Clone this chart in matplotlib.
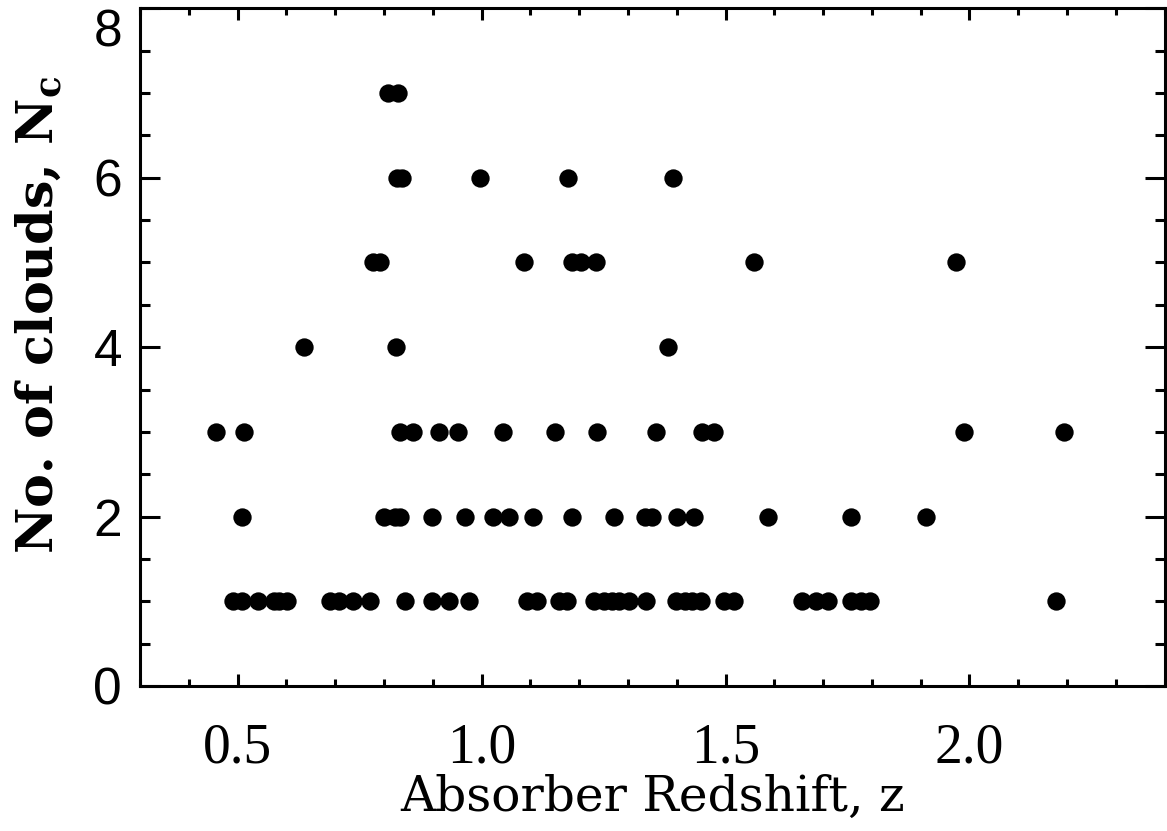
import matplotlib.pyplot as plt
from matplotlib.ticker import MultipleLocator

# absorber redshifts grouped by number of clouds
z_n1 = [0.490, 0.509, 0.541, 0.574, 0.584, 0.601, 0.690, 0.707, 0.737, 0.772,
        0.843, 0.898, 0.933, 0.974, 1.094, 1.113, 1.158, 1.176, 1.231, 1.250,
        1.268, 1.282, 1.303, 1.338, 1.399, 1.416, 1.432, 1.450, 1.497, 1.517,
        1.656, 1.685, 1.711, 1.758, 1.778, 1.797, 2.178]
z_n2 = [0.509, 0.799, 0.823, 0.833, 0.898, 0.966, 1.023, 1.056, 1.105, 1.186,
        1.272, 1.335, 1.350, 1.401, 1.436, 1.587, 1.758, 1.911]
z_n3 = [0.456, 0.513, 0.833, 0.860, 0.913, 0.952, 1.043, 1.150, 1.237, 1.358,
        1.451, 1.476, 1.988, 2.194]
z_n4 = [0.637, 0.825, 1.382]
z_n5 = [0.778, 0.792, 1.086, 1.186, 1.204, 1.235, 1.558, 1.972]
z_n6 = [0.827, 0.837, 0.997, 1.178, 1.392]
z_n7 = [0.809, 0.829]

groups = [(1, z_n1), (2, z_n2), (3, z_n3), (4, z_n4), (5, z_n5), (6, z_n6), (7, z_n7)]

xticks = [0.5, 1.0, 1.5, 2.0]
xtick_labels = ['0.5', '1.0', '1.5', '2.0']
yticks = [0, 2, 4, 6, 8]
ytick_labels = ['0', '2', '4', '6', '8']

fig = plt.figure(figsize=(11.67, 8.31), dpi=100)
ax = fig.add_axes([0.12, 0.1745, 0.878, 0.8155])

for n, zs in groups:
    ax.plot(zs, [n] * len(zs), 'o', color='k', markersize=13.2, markeredgewidth=0)

ax.set(xlim=(0.3, 2.4), ylim=(0, 8))
ax.set_xticks(xticks)
ax.set_xticklabels(xtick_labels, family='Liberation Serif', fontsize=40)
ax.set_yticks(yticks)
ax.set_yticklabels(ytick_labels, family='Liberation Sans', fontsize=37)
ax.xaxis.set_minor_locator(MultipleLocator(0.1))
ax.yaxis.set_minor_locator(MultipleLocator(0.5))
ax.get_yticklabels()[-1].set_va('top')

for s in ax.spines.values():
    s.set_linewidth(2.2)
ax.tick_params(which='both', direction='in', top=True, right=True, width=2.2, colors='k')
ax.tick_params(axis='x', which='major', length=8.6, pad=26)
ax.tick_params(axis='x', which='minor', length=5)
ax.tick_params(axis='y', which='major', length=14.4, pad=13)
ax.tick_params(axis='y', which='minor', length=7.2)

ax.set_xlabel('Absorber Redshift, z', family='DejaVu Serif', fontsize=35)
ax.xaxis.set_label_coords(0.5, -0.13)
ax.xaxis.label.set_va('top')
ax.set_ylabel(r'No. of clouds, N$_\mathregular{c}$', family='DejaVu Serif',
              fontsize=36.5, fontweight='bold')
ax.yaxis.set_label_coords(-0.074, 0.547)

fig.savefig('out.png', dpi=100)
